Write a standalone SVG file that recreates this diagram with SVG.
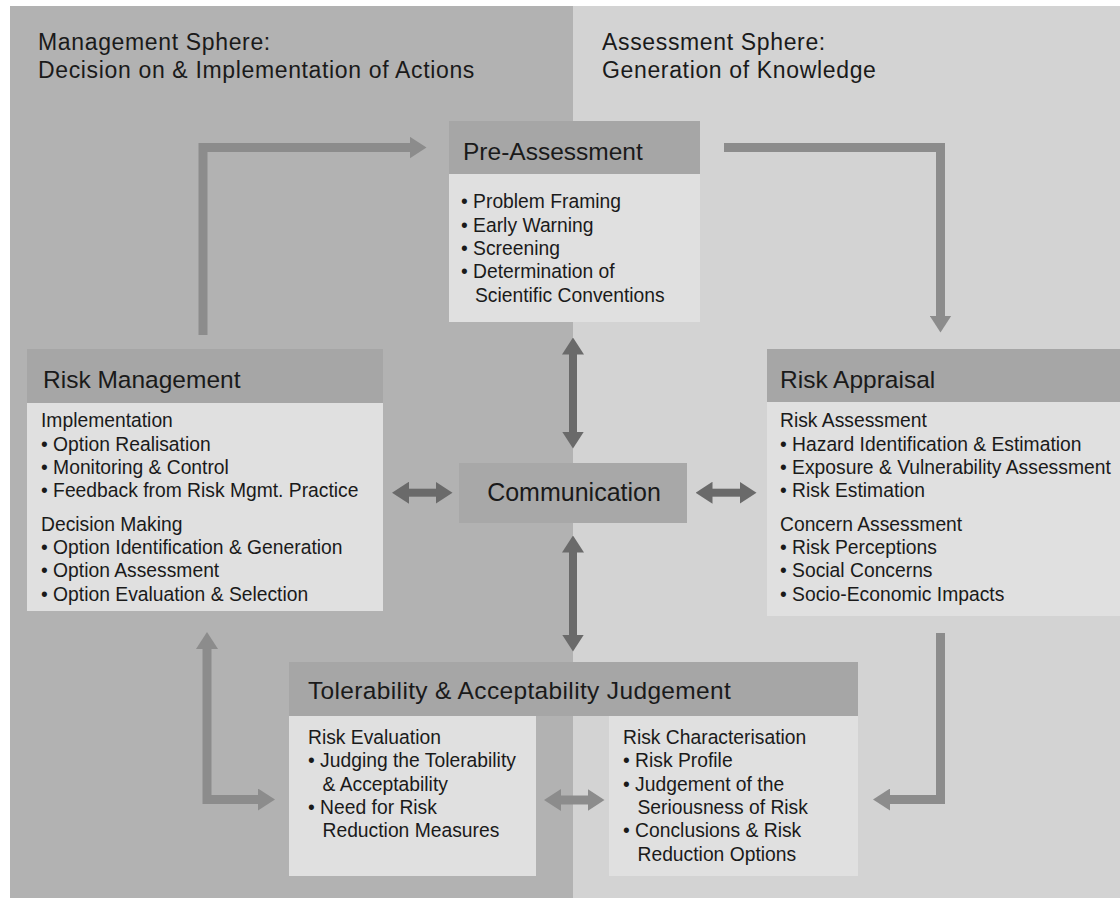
<svg xmlns="http://www.w3.org/2000/svg" width="1120" height="898" viewBox="0 0 1120 898">
<defs>
<style>
text{font-family:"Liberation Sans",Arial,Helvetica,sans-serif;fill:#1a1a1a}
.sphere{font-size:23px;letter-spacing:0.65px}
.title{font-size:24.5px}
.body{font-size:19.3px}
.hdr{fill:#a6a6a6}
.bx{fill:#e0e0e0}
.flow{fill:none;stroke:#8c8c8c;stroke-width:9;stroke-linejoin:miter}
.comm{fill:none;stroke:#6a6a6a;stroke-width:8}
</style>
<marker id="hf" markerUnits="userSpaceOnUse" viewBox="0 0 17 22" refX="0.5" refY="11" markerWidth="17" markerHeight="22" orient="auto-start-reverse">
<path d="M0,0 L17,11 L0,22 Z" fill="#8c8c8c"/>
</marker>
<marker id="hc" markerUnits="userSpaceOnUse" viewBox="0 0 17 22" refX="0.5" refY="11" markerWidth="17" markerHeight="22" orient="auto-start-reverse">
<path d="M0,0 L17,11 L0,22 Z" fill="#6a6a6a"/>
</marker>
</defs>
<rect x="0" y="0" width="1120" height="898" fill="#ffffff"/>
<g id="management-sphere">
<rect x="10" y="6" width="563" height="892" fill="#b2b2b2"/>
<text class="sphere" x="38" y="49.5">Management Sphere:</text>
<text class="sphere" x="38" y="77.5">Decision on &amp; Implementation of Actions</text>
</g>
<g id="assessment-sphere">
<rect x="573" y="6" width="547" height="892" fill="#d3d3d3"/>
<text class="sphere" x="602" y="49.5">Assessment Sphere:</text>
<text class="sphere" x="602" y="77.5">Generation of Knowledge</text>
</g>
<g id="connectors">
<path class="flow" d="M203,335 V147.5 H410" marker-end="url(#hf)"/>
<path class="flow" d="M724,147.5 H940.5 V316" marker-end="url(#hf)"/>
<path class="flow" d="M940.5,633 V799.5 H889.5" marker-end="url(#hf)"/>
<path class="flow" d="M207,648.5 V799.5 H258.5" marker-start="url(#hf)" marker-end="url(#hf)"/>
<path class="flow" d="M560.5,800 H588" marker-start="url(#hf)" marker-end="url(#hf)"/>
<path class="comm" d="M573,354 V432" marker-start="url(#hc)" marker-end="url(#hc)"/>
<path class="comm" d="M573,552 V635" marker-start="url(#hc)" marker-end="url(#hc)"/>
<path class="comm" d="M408.5,492.7 H436" marker-start="url(#hc)" marker-end="url(#hc)"/>
<path class="comm" d="M712,492.7 H740" marker-start="url(#hc)" marker-end="url(#hc)"/>
</g>
<g id="pre-assessment">
<rect class="hdr" x="449" y="121" width="251" height="53"/>
<rect class="bx" x="449" y="174" width="251" height="148"/>
<text class="title" x="463" y="159.5">Pre-Assessment</text>
<text class="body" x="461" y="208.3">• Problem Framing</text>
<text class="body" x="461" y="231.7">• Early Warning</text>
<text class="body" x="461" y="255">• Screening</text>
<text class="body" x="461" y="278.3">• Determination of</text>
<text class="body" x="475" y="301.7">Scientific Conventions</text>
</g>
<g id="risk-management">
<rect class="hdr" x="27" y="349" width="356" height="54"/>
<rect class="bx" x="27" y="403" width="356" height="208"/>
<text class="title" x="43" y="388">Risk Management</text>
<text class="body" x="41" y="427.3">Implementation</text>
<text class="body" x="41" y="450.7">• Option Realisation</text>
<text class="body" x="41" y="474">• Monitoring &amp; Control</text>
<text class="body" x="41" y="497.3">• Feedback from Risk Mgmt. Practice</text>
<text class="body" x="41" y="530.7">Decision Making</text>
<text class="body" x="41" y="554">• Option Identification &amp; Generation</text>
<text class="body" x="41" y="577.3">• Option Assessment</text>
<text class="body" x="41" y="600.7">• Option Evaluation &amp; Selection</text>
</g>
<g id="risk-appraisal">
<rect class="hdr" x="767" y="349" width="353" height="53"/>
<rect class="bx" x="767" y="402" width="353" height="214"/>
<text class="title" x="780" y="388">Risk Appraisal</text>
<text class="body" x="780" y="427.3">Risk Assessment</text>
<text class="body" x="780" y="450.7">• Hazard Identification &amp; Estimation</text>
<text class="body" x="780" y="474">• Exposure &amp; Vulnerability Assessment</text>
<text class="body" x="780" y="497.3">• Risk Estimation</text>
<text class="body" x="780" y="530.7">Concern Assessment</text>
<text class="body" x="780" y="554">• Risk Perceptions</text>
<text class="body" x="780" y="577.3">• Social Concerns</text>
<text class="body" x="780" y="600.7">• Socio-Economic Impacts</text>
</g>
<g id="communication">
<rect x="459" y="463" width="228" height="60" fill="#a8a8a8"/>
<text x="574" y="500.7" font-size="25" text-anchor="middle">Communication</text>
</g>
<g id="tolerability-acceptability">
<rect class="hdr" x="289" y="662" width="569" height="54"/>
<text class="title" x="308" y="699.3" letter-spacing="0.35">Tolerability &amp; Acceptability Judgement</text>
<g id="risk-evaluation">
<rect class="bx" x="289" y="716" width="247" height="160"/>
<text class="body" x="308" y="744">Risk Evaluation</text>
<text class="body" x="308" y="767.3">• Judging the Tolerability</text>
<text class="body" x="322.5" y="790.7">&amp; Acceptability</text>
<text class="body" x="308" y="814">• Need for Risk</text>
<text class="body" x="322.5" y="837.3">Reduction Measures</text>
</g>
<g id="risk-characterisation">
<rect class="bx" x="609" y="716" width="249" height="160"/>
<text class="body" x="623" y="744">Risk Characterisation</text>
<text class="body" x="623" y="767.3">• Risk Profile</text>
<text class="body" x="623" y="790.7">• Judgement of the</text>
<text class="body" x="637.5" y="814">Seriousness of Risk</text>
<text class="body" x="623" y="837.3">• Conclusions &amp; Risk</text>
<text class="body" x="637.5" y="860.7">Reduction Options</text>
</g>
</g>
</svg>
